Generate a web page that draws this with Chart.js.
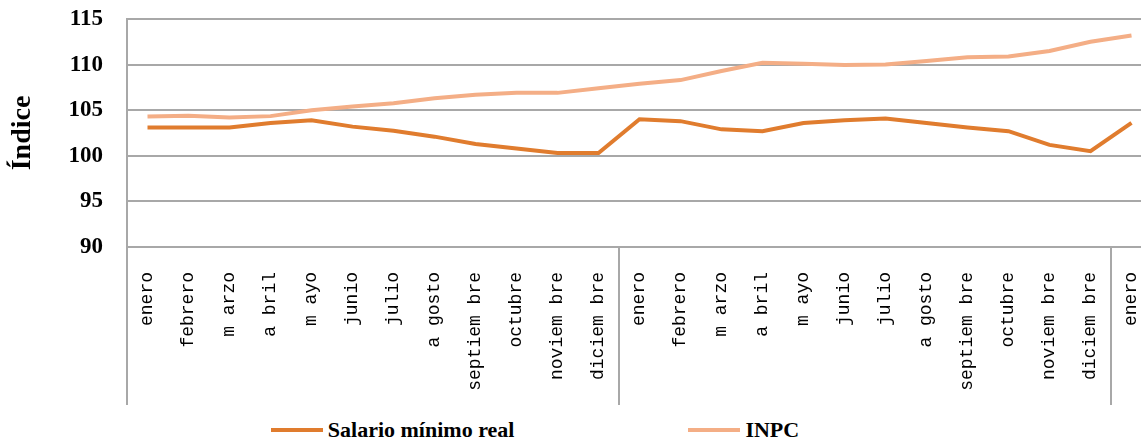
<!DOCTYPE html>
<html>
<head>
<meta charset="utf-8">
<script src="https://cdn.jsdelivr.net/npm/chart.js@4/dist/chart.umd.min.js"></script>
<style>
  html, body { margin: 0; padding: 0; background: #fff; overflow: hidden; }
  #marco { position: relative; width: 1152px; height: 440px; }
  #leyenda {
    position: absolute; left: 0; top: 405px; width: 1152px; height: 50px;
    display: flex; justify-content: center; align-items: center; gap: 174px;
    padding-right: 82px; box-sizing: border-box;
    font: bold 22px "Liberation Serif", serif; color: #000;
  }
  .item { display: flex; align-items: center; }
  .linea { display: inline-block; width: 52px; height: 4px; margin-right: 5px; }
</style>
</head>
<body>
<div id="marco">
  <canvas id="grafico" width="1152" height="405"></canvas>
  <div id="leyenda"></div>
</div>
<script>
  // Datos
  const meses = [
    "enero", "febrero", "m arzo", "a bril", "m ayo", "junio", "julio", "a gosto",
    "septiem bre", "octubre", "noviem bre", "diciem bre",
    "enero", "febrero", "m arzo", "a bril", "m ayo", "junio", "julio", "a gosto",
    "septiem bre", "octubre", "noviem bre", "diciem bre",
    "enero"
  ];
  const salarioMinimoReal = [
    103.1, 103.1, 103.1, 103.6, 103.9, 103.2, 102.75, 102.1, 101.3, 100.8, 100.3, 100.3,
    104.0, 103.8, 102.9, 102.7, 103.6, 103.9, 104.1, 103.6, 103.1, 102.7, 101.2, 100.5,
    103.6
  ];
  const inpc = [
    104.3, 104.4, 104.2, 104.35, 105.0, 105.4, 105.75, 106.3, 106.7, 106.9, 106.9, 107.4,
    107.9, 108.3, 109.3, 110.2, 110.1, 109.95, 110.0, 110.4, 110.8, 110.9, 111.5, 112.5,
    113.2
  ];
  const ticksY = [90, 95, 100, 105, 110, 115];
  const cortesAnio = [0, 12, 24]; // inicio de cada año en el eje

  const gris = "#a8a8a8";

  // líneas verticales que separan los años debajo del eje
  const separadores = {
    id: "separadores",
    afterDraw(chart) {
      const x = chart.scales.x;
      const area = chart.chartArea;
      const ctx = chart.ctx;
      ctx.save();
      ctx.strokeStyle = gris;
      ctx.lineWidth = 2;
      cortesAnio.forEach(i => {
        let px;
        if (i === 0) px = area.left;
        else px = (x.getPixelForValue(i - 1) + x.getPixelForValue(i)) / 2;
        ctx.beginPath();
        ctx.moveTo(px, area.bottom);
        ctx.lineTo(px, x.bottom);
        ctx.stroke();
      });
      ctx.restore();
    }
  };

  const grafico = new Chart(document.getElementById("grafico"), {
    type: "line",
    data: {
      labels: meses,
      datasets: [
        {
          label: "Salario mínimo real",
          data: salarioMinimoReal,
          borderColor: "#e07c2e",
          backgroundColor: "#e07c2e",
          borderWidth: 4,
          pointRadius: 0,
          tension: 0
        },
        {
          label: "INPC",
          data: inpc,
          borderColor: "#f4ae86",
          backgroundColor: "#f4ae86",
          borderWidth: 4,
          pointRadius: 0,
          tension: 0
        }
      ]
    },
    options: {
      responsive: false,
      animation: false,
      layout: { padding: 0 },
      plugins: {
        legend: { display: false },
        tooltip: { enabled: false }
      },
      scales: {
        x: {
          offset: true,
          grid: { display: false, drawTicks: false },
          border: { display: false },
          ticks: {
            autoSkip: false,
            minRotation: 90,
            maxRotation: 90,
            padding: 25,
            color: "#000",
            font: { family: "Liberation Mono", size: 18 }
          },
          afterFit(s) {
            s.height = 158;
            s.paddingLeft = 0;
            s.paddingRight = 0;
          }
        },
        y: {
          min: 90,
          max: 115,
          afterBuildTicks(s) { s.ticks = ticksY.map(v => ({ value: v })); },
          grid: { color: gris, lineWidth: 2, drawTicks: false },
          border: { display: true, color: gris, width: 2 },
          ticks: {
            padding: 24,
            color: "#000",
            font: { family: "Liberation Serif", size: 23, weight: "bold" }
          },
          title: {
            display: true,
            text: "Índice",
            color: "#000",
            padding: { top: 6, bottom: 0 },
            font: { family: "Liberation Serif", size: 28, weight: "bold" }
          },
          afterFit(s) {
            s.width = 127;
            s.paddingTop = 19;
            s.paddingBottom = 0;
          }
        }
      }
    },
    plugins: [separadores]
  });

  // leyenda en HTML
  const leyenda = document.getElementById("leyenda");
  grafico.data.datasets.forEach(ds => {
    const item = document.createElement("div");
    item.className = "item";
    const linea = document.createElement("span");
    linea.className = "linea";
    linea.style.background = ds.borderColor;
    const texto = document.createElement("span");
    texto.textContent = ds.label;
    item.appendChild(linea);
    item.appendChild(texto);
    leyenda.appendChild(item);
  });
</script>
</body>
</html>
